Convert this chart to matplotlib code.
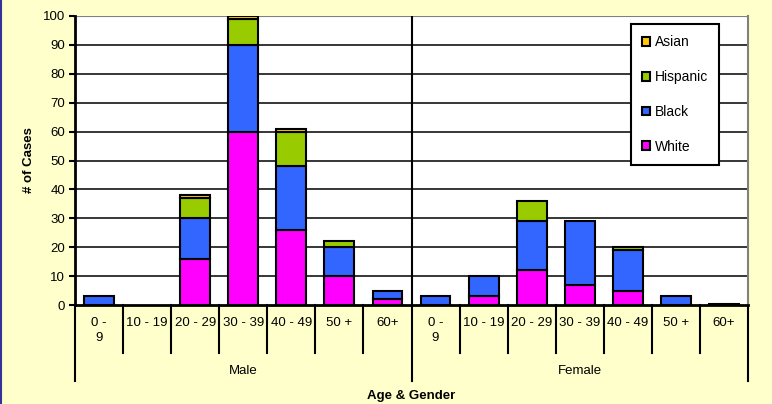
import matplotlib
matplotlib.use('Agg')
import matplotlib.pyplot as plt
import matplotlib.transforms as mtransforms
from matplotlib.patches import Patch
from matplotlib.lines import Line2D
import numpy as np

plt.rcParams['font.family'] = ['Liberation Sans', 'DejaVu Sans']

ages = ['0 -\n9', '10 - 19', '20 - 29', '30 - 39', '40 - 49', '50 +', '60+']
genders = ['Male', 'Female']

# values per age group: male then female
white = [0, 0, 16, 60, 26, 10, 2,
         0, 3, 12, 7, 5, 0, 0.3]
black = [3, 0, 14, 30, 22, 10, 3,
         3, 7, 17, 22, 14, 3, 0]
hispanic = [0, 0, 7, 9, 12, 2, 0,
            0, 0, 7, 0, 1, 0, 0]
asian = [0, 0, 1, 1, 1, 0, 0,
         0, 0, 0, 0, 0, 0, 0]

series = [('White', white, '#FF00FF'),
          ('Black', black, '#3366FF'),
          ('Hispanic', hispanic, '#99CC00'),
          ('Asian', asian, '#FFCC00')]

bg = '#FFFFCC'
fs = 9.5
W, H = 772, 404
fig = plt.figure(figsize=(W / 100, H / 100), dpi=100, facecolor=bg)
ax = fig.add_axes([75 / W, (H - 305) / H, 673 / W, 289 / H])
ax.set_facecolor('white')

n = len(white)
x = np.arange(n)
bottom = np.zeros(n)
handles = []
for name, vals, col in series:
    v = np.array(vals, dtype=float)
    nz = v > 0
    ax.bar(x[nz], v[nz], 0.62, bottom=bottom[nz], color=col,
           edgecolor='black', linewidth=1.5, zorder=3)
    bottom += v
    handles.append(Patch(facecolor=col, edgecolor='black', linewidth=1.5,
                         label=name))

ax.set_xlim(-0.5, n - 0.5)
ax.set_ylim(0, 100)
ax.set_yticks(range(0, 101, 10))
ax.tick_params(axis='y', length=4, width=1.5, labelsize=fs, pad=3)
ax.set_xticks([])
for yv in range(10, 100, 10):
    ax.axhline(yv, color='black', lw=1.1, zorder=1)
ax.axhline(100, color='#808080', lw=1.5, zorder=1)
ax.axvline(6.5, color='black', lw=1.5, zorder=1)

ax.spines['left'].set_linewidth(2)
ax.spines['bottom'].set_linewidth(2)
ax.spines['top'].set_visible(False)
ax.spines['right'].set_color('#808080')
ax.spines['right'].set_linewidth(1.5)

# category axis below plot
trans = mtransforms.blended_transform_factory(ax.transData, ax.transAxes)
cat_drop = 48 / 289
grp_drop = 76 / 289
for b in np.arange(-0.5, n, 1.0):
    drop = grp_drop if b in (-0.5, 6.5, n - 0.5) else cat_drop
    ax.add_line(Line2D([b, b], [0, -drop], transform=trans, color='black',
                       lw=1.5, clip_on=False))
for i in range(n):
    lab = ages[i % len(ages)]
    ax.text(i, -12 / 289, lab, transform=trans, ha='center', va='top',
            fontsize=fs, linespacing=1.35)
for g, name in enumerate(genders):
    ax.text(g * 7 + 3, -66 / 289, name, transform=trans, ha='center',
            va='center', fontsize=fs)
ax.text(6.5, -91 / 289, 'Age & Gender', transform=trans, ha='center',
        va='center', fontsize=fs, fontweight='bold')
fig.text(29 / W, 1 - 160 / H, '# of Cases', rotation=90, ha='center',
         va='center', fontsize=fs, fontweight='bold')

leg = ax.legend(handles=handles[::-1], loc='upper left',
                bbox_to_anchor=(0.826, 0.972), fontsize=10, frameon=True,
                fancybox=False, edgecolor='black', framealpha=1,
                handlelength=0.6, handleheight=0.6, handletextpad=0.3,
                labelspacing=1.5, borderpad=0.8, borderaxespad=0)
leg.get_frame().set_linewidth(1.5)
leg.set_zorder(5)

fig.add_artist(Line2D([0.0015, 0.0015], [0, 1], color='#333399', lw=1.5))

fig.savefig('out.png', dpi=100, facecolor=bg)
